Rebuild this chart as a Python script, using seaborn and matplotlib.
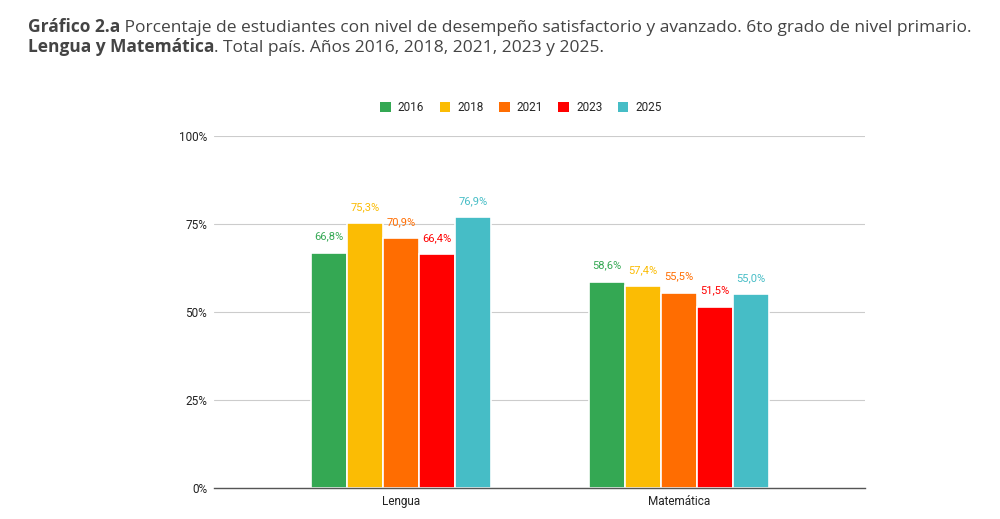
import numpy as np
import pandas as pd
import seaborn as sns
import matplotlib.pyplot as plt
from matplotlib.patches import Patch

# Datos del gráfico
areas = ['Lengua', 'Matemática']
anios = ['2016', '2018', '2021', '2023', '2025']
lengua = [66.8, 75.3, 70.9, 66.4, 76.9]
matematica = [58.6, 57.4, 55.5, 51.5, 55.0]
colores = ['#34A853', '#FBBC04', '#FF6D01', '#FF0000', '#46BDC6']

dados = pd.DataFrame({
    'Area': np.repeat(areas, len(anios)),
    'Año': anios * len(areas),
    'Valor': lengua + matematica,
})

sns.set_theme(style="white")
plt.rcParams['font.family'] = ['Roboto', 'DejaVu Sans']

fig = plt.figure(figsize=(10, 5.19), dpi=100)
ax = fig.add_axes([0.214, 0.06, 0.651, 0.678])

sns.barplot(data=dados, x='Area', y='Valor', hue='Año', palette=colores,
            width=0.647, edgecolor='white', linewidth=1.2, saturation=1,
            legend=False, ax=ax)

# Etiquetas de valores
for cont, col in zip(ax.containers, colores):
    etiquetas = [f"{v:.1f}".replace('.', ',') + '%' for v in cont.datavalues]
    ax.bar_label(cont, labels=etiquetas, padding=8, color=col, fontsize=8)

ax.set_ylim(0, 100)
ax.set_xlim(-0.673, 1.67)
ax.set_yticks([0, 25, 50, 75, 100])
ax.set_yticklabels(['0%', '25%', '50%', '75%', '100%'], fontsize=8.5, color='#222222')
ax.tick_params(axis='x', labelsize=8.5, colors='#222222', length=0, pad=5)
ax.tick_params(axis='y', length=0, pad=5)
ax.yaxis.grid(True, color='#cccccc', linewidth=0.8)
ax.set_axisbelow(True)
ax.set_xlabel('')
ax.set_ylabel('')
for s in ['top', 'right', 'left']:
    ax.spines[s].set_visible(False)
ax.spines['bottom'].set_color('#555555')
ax.spines['bottom'].set_linewidth(1)

# Leyenda
manijas = [Patch(facecolor=c, edgecolor='none') for c in colores]
fig.legend(manijas, anios, loc='center', bbox_to_anchor=(0.521, 0.792), ncol=5,
           frameon=False, fontsize=8.5, handlelength=0.9, handleheight=0.9,
           handletextpad=0.6, columnspacing=1.3)

# Título en dos líneas, con partes en negrita
fuente_titulo = ['Open Sans', 'DejaVu Sans']
lineas = [
    ('Gráfico 2.a', ' Porcentaje de estudiantes con nivel de desempeño satisfactorio y avanzado. 6to grado de nivel primario.'),
    ('Lengua y Matemática', '. Total país. Años 2016, 2018, 2021, 2023 y 2025.'),
]
renderer = fig.canvas.get_renderer()
for i, (negrita, normal) in enumerate(lineas):
    y = 0.938 - i * 0.039
    t1 = fig.text(0.028, y, negrita, fontsize=12.55, fontweight='bold',
                  color='#444444', family=fuente_titulo)
    bb = t1.get_window_extent(renderer=renderer)
    x2 = bb.x1 / fig.bbox.width
    fig.text(x2, y, normal, fontsize=12.55, color='#444444', family=fuente_titulo)

fig.savefig('out.png', dpi=100)
